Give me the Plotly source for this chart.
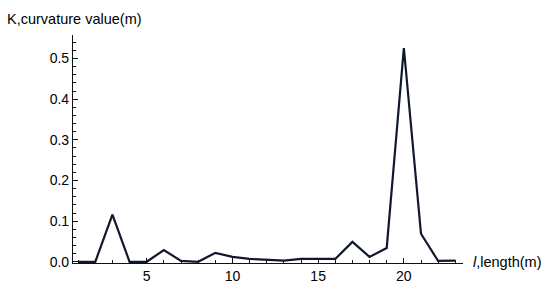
import plotly.graph_objects as go

length_m = list(range(1, 24))
curvature = [0.0, 0.0, 0.116, 0.0, 0.0, 0.029, 0.002, 0.0, 0.022, 0.012,
             0.007, 0.005, 0.003, 0.007, 0.007, 0.007, 0.049, 0.012, 0.034,
             0.526, 0.069, 0.002, 0.003]

y_tick_vals = [0.0, 0.1, 0.2, 0.3, 0.4, 0.5]
x_tick_vals = [5, 10, 15, 20]

fig = go.Figure()
fig.add_trace(go.Scatter(x=length_m, y=curvature, mode="lines",
                         line=dict(color="#101830", width=2.2),
                         showlegend=False, hoverinfo="skip"))

font = dict(family="Liberation Sans, Arial, sans-serif", size=14, color="#000000")
lab_font = dict(family="Liberation Sans, Arial, sans-serif", size=14.5, color="#000000")

fig.update_layout(
    width=550, height=296,
    margin=dict(l=73, r=87, t=35, b=24),
    paper_bgcolor="white", plot_bgcolor="white",
    font=font,
    xaxis=dict(range=[0.7, 23.45], showgrid=False, zeroline=False,
               showline=True, linecolor="#111111", linewidth=1.2,
               tickvals=x_tick_vals, ticks="inside", ticklen=5, tickwidth=1,
               tickcolor="#111111",
               minor=dict(dtick=1, tick0=0, ticks="inside", ticklen=3,
                          tickcolor="#111111", tickwidth=1, showgrid=False),
               tickfont=font),
    yaxis=dict(range=[-0.003, 0.558], showgrid=False, zeroline=False,
               showline=True, linecolor="#111111", linewidth=1.2,
               tickvals=y_tick_vals, tickformat=".1f", ticks="inside",
               ticklen=5, tickwidth=1, tickcolor="#111111",
               minor=dict(dtick=0.02, tick0=0, ticks="inside", ticklen=3,
                          tickcolor="#111111", tickwidth=1, showgrid=False),
               tickfont=font),
    annotations=[
        dict(text="K,curvature value(m)", xref="paper", yref="paper",
             x=-0.175, y=1.072, xanchor="left", yanchor="middle",
             showarrow=False, font=lab_font),
        dict(text="<i>l</i>,length(m)", xref="paper", yref="paper",
             x=1.02, y=0.004, xanchor="left", yanchor="middle",
             showarrow=False, font=lab_font),
    ],
)

fig.write_html(
    "out.html",
    config={"displayModeBar": False},
    post_script="document.body.style.margin='0';document.body.style.overflow='hidden';",
)
